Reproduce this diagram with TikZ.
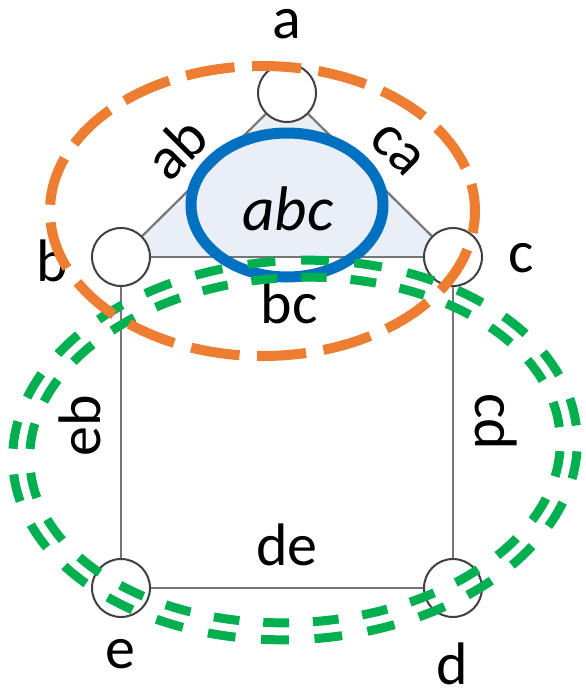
\documentclass[tikz,border=0pt]{standalone}
\usepackage{fontspec}
\setmainfont{Carlito}
\definecolor{edgegray}{HTML}{767676}
\definecolor{vtxline}{HTML}{404040}
\definecolor{trifill}{HTML}{E9EEF7}
\definecolor{hblue}{HTML}{0070C0}
\definecolor{horange}{HTML}{ED7D31}
\definecolor{hgreen}{HTML}{00B050}
\begin{document}
\begin{tikzpicture}[x=1pt,y=-1pt,
  vtx/.style={circle,draw=vtxline,fill=white,line width=2pt,minimum size=58pt,inner sep=0pt},
  edge/.style={draw=edgegray,line width=2.2pt},
  lbl/.style={inner sep=0pt,font=\fontsize{60}{72}\selectfont},
  hyperA/.style={draw=hblue,line width=11pt},
  hyperB/.style={draw=horange,line width=10pt,dash pattern=on 49pt off 17.66pt,dash phase=27pt},
  hyperC/.style={draw=hgreen,line width=9pt,rotate around={3:(295,450)}}]
\useasboundingbox (0,0) rectangle (586,691);

% vertex positions
\coordinate (pa) at (287,93);
\coordinate (pb) at (121,257);
\coordinate (pc) at (453,257);
\coordinate (pd) at (453,588);
\coordinate (pe) at (121,588);

% shaded face abc
\fill[trifill] (pa) -- (pb) -- (pc) -- cycle;

% vertices
\node[vtx] (a) at (pa) {};
\node[vtx] (b) at (pb) {};
\node[vtx] (c) at (pc) {};
\node[vtx] (d) at (pd) {};
\node[vtx] (e) at (pe) {};

% edges
\draw[edge] (a) -- (b);
\draw[edge] (a) -- (c);
\draw[edge] (b) -- (c);
\draw[edge] (b) -- (e);
\draw[edge] (c) -- (d);
\draw[edge] (e) -- (d);

% vertex labels
\node[lbl,anchor=base] (la) at (287,38) {a};
\node[lbl,anchor=base] (lb) at (52,281) {b};
\node[lbl,anchor=base] (lc) at (521,272) {c};
\node[lbl,anchor=base] (ld) at (452,684) {d};
\node[lbl,anchor=base] (le) at (120,668) {e};

% edge labels
\node[lbl,rotate=45] (lab) at (176,148) {ab};
\node[lbl,rotate=-45] (lca) at (397,150) {ca};
\node[lbl,anchor=base] (lbc) at (289,323) {bc};
\node[lbl,anchor=base] (lde) at (287,565) {de};
\node[lbl,anchor=base,rotate=90] (leb) at (100,426) {eb};
\node[lbl,anchor=base,rotate=-90] (lcd) at (475,422) {cd};

% face label
\node[inner sep=0pt,anchor=base,font=\fontsize{63}{72}\selectfont\itshape] (labc) at (288,230) {abc};

% hyperedges
\draw[hyperA] (287,205) ellipse [x radius=96, y radius=72];
\draw[hyperC,dash pattern=on 27.8pt off 25.67pt,dash phase=37.3pt]
  (295,450) ellipse [x radius=282.5, y radius=189.5];
\draw[hyperC,dash pattern=on 25.84pt off 23.86pt,dash phase=34.7pt]
  (295,450) ellipse [x radius=265.5, y radius=172.5];
\draw[hyperB] (262.5,211) ellipse [x radius=212.5, y radius=145];
\end{tikzpicture}
\end{document}
